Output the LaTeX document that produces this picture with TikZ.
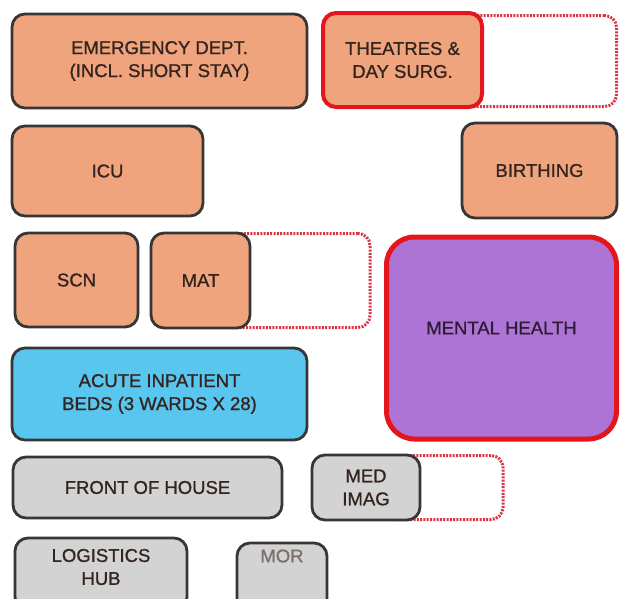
\documentclass[tikz,border=0pt]{standalone}
\usepackage{fontspec}
\setmainfont{Liberation Sans}
\newfontfamily\boxfont{Liberation Sans}[FakeBold=1]
\definecolor{salmon}{HTML}{F0A47E}
\definecolor{edge}{HTML}{363636}
\definecolor{redge}{HTML}{E2161C}
\definecolor{purp}{HTML}{AE74D5}
\definecolor{sky}{HTML}{58C6EE}
\definecolor{greyf}{HTML}{D3D3D3}
\definecolor{txt}{HTML}{33241F}
\definecolor{dotred}{HTML}{DA3545}
\begin{document}
\begin{tikzpicture}[x=1pt,y=-1pt,
  lbl/.style={font=\boxfont\fontsize{18.5}{23}\selectfont,text=txt,align=center},
  box/.style={draw=edge,line width=2.8pt,rounded corners=13pt,inner sep=0pt,lbl},
  redbox/.style={box,draw=redge,line width=4pt},
  dotbox/.style={draw=dotred,line width=3pt,rounded corners=12pt,dash pattern=on 2pt off 1.3pt,inner sep=0pt},
  sz/.style 2 args={minimum width=#1pt,minimum height=#2pt}]
\useasboundingbox (0,0) rectangle (620,598);
\clip (0,0) rectangle (620,598);
% dotted extension areas
\node[dotbox,sz={176}{91}] (thd) at (528.5,61) {};
\node[dotbox,sz={150}{94}] (matd) at (295,280.5) {};
\node[dotbox,sz={123}{64}] (medd) at (441.5,487.5) {};
% orange blocks
\node[box,fill=salmon,sz={295}{94}] (ed) at (159.5,61) {EMERGENCY DEPT.\\(INCL. SHORT STAY)};
\node[redbox,fill=salmon,sz={159}{94}] (th) at (402.5,60) {THEATRES \&\\DAY SURG.};
\node[box,fill=salmon,sz={191}{90}] (icu) at (107.5,171) {ICU};
\node[box,fill=salmon,sz={155}{95}] (bir) at (539.5,170.5) {BIRTHING};
\node[box,fill=salmon,sz={123}{94}] (scn) at (76.5,280) {SCN};
\node[box,fill=salmon,sz={99}{95}] (mat) at (200.5,280.5) {MAT};
% mental health
\node[redbox,line width=5pt,rounded corners=28pt,fill=purp,sz={230}{202}] (mh) at (501.5,338) {};
\node[lbl,text=purp!25!black] (mht) at ([yshift=10pt]mh.center) {MENTAL HEALTH};
% acute
\node[box,fill=sky,sz={295}{92}] (ac) at (159.5,394) {ACUTE INPATIENT\\BEDS (3 WARDS X 28)};
% grey blocks
\node[box,fill=greyf,sz={269}{61}] (foh) at (147.5,487.5) {FRONT OF HOUSE};
\node[box,fill=greyf,sz={108}{65}] (med) at (366,487.5) {MED\\IMAG};
\node[box,fill=greyf,sz={172}{72}] (log) at (101,574) {};
\node[lbl] (logt) at (101,567) {LOGISTICS\\HUB};
\node[box,fill=greyf,sz={90}{72}] (mor) at (282,579) {};
\node[lbl,text=txt!65] (mort) at (282,556) {MOR};
\end{tikzpicture}
\end{document}
